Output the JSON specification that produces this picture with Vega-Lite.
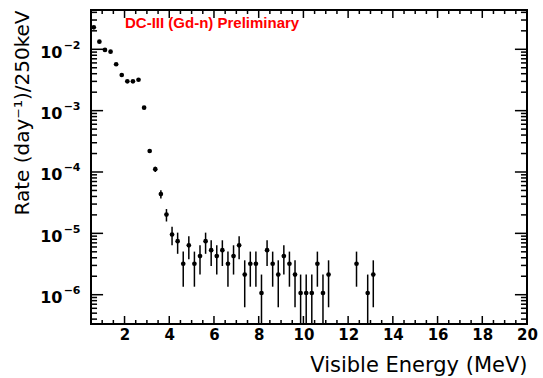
{
  "$schema": "https://vega.github.io/schema/vega-lite/v6.json",
  "width": 436,
  "height": 314,
  "autosize": "none",
  "padding": {"left": 91, "top": 10, "right": 16, "bottom": 54},
  "background": "white",
  "config": {
    "view": {"stroke": "black", "strokeWidth": 2},
    "axis": {"domain": false, "grid": false, "labelOverlap": false, "labelFlush": false, "labelBound": false, "labelColor": "black"}
  },
  "datasets": {
    "spectrum": [
      {"E": 0.625, "rate": 0.0228, "lo": 0.0228, "hi": 0.0228},
      {"E": 0.875, "rate": 0.0133, "lo": 0.0133, "hi": 0.0133},
      {"E": 1.125, "rate": 0.00975, "lo": 0.00975, "hi": 0.00975},
      {"E": 1.375, "rate": 0.00914, "lo": 0.00914, "hi": 0.00914},
      {"E": 1.625, "rate": 0.0057, "lo": 0.0057, "hi": 0.0057},
      {"E": 1.875, "rate": 0.00381, "lo": 0.00381, "hi": 0.00381},
      {"E": 2.125, "rate": 0.00301, "lo": 0.00301, "hi": 0.00301},
      {"E": 2.375, "rate": 0.00301, "lo": 0.00301, "hi": 0.00301},
      {"E": 2.625, "rate": 0.00319, "lo": 0.00319, "hi": 0.00319},
      {"E": 2.875, "rate": 0.001117, "lo": 0.00108, "hi": 0.00115},
      {"E": 3.125, "rate": 0.00022, "lo": 0.000205, "hi": 0.000235},
      {"E": 3.375, "rate": 0.000111, "lo": 0.0001, "hi": 0.000122},
      {"E": 3.625, "rate": 0.0000437, "lo": 0.0000369, "hi": 0.0000505},
      {"E": 3.875, "rate": 0.0000202, "lo": 0.0000156, "hi": 0.0000249},
      {"E": 4.125, "rate": 0.000009585, "lo": 0.00000639, "hi": 0.00001278},
      {"E": 4.375, "rate": 0.000007455, "lo": 0.00000464, "hi": 0.00001027},
      {"E": 4.625, "rate": 0.000003195, "lo": 0.00000135, "hi": 0.00000504},
      {"E": 4.875, "rate": 0.00000639, "lo": 0.00000378, "hi": 0.000009},
      {"E": 5.125, "rate": 0.000003195, "lo": 0.00000135, "hi": 0.00000504},
      {"E": 5.375, "rate": 0.00000426, "lo": 0.00000213, "hi": 0.00000639},
      {"E": 5.625, "rate": 0.000007455, "lo": 0.00000464, "hi": 0.00001027},
      {"E": 5.875, "rate": 0.000005325, "lo": 0.00000294, "hi": 0.00000771},
      {"E": 6.125, "rate": 0.00000426, "lo": 0.00000213, "hi": 0.00000639},
      {"E": 6.375, "rate": 0.000005325, "lo": 0.00000294, "hi": 0.00000771},
      {"E": 6.625, "rate": 0.000003195, "lo": 0.00000135, "hi": 0.00000504},
      {"E": 6.875, "rate": 0.00000426, "lo": 0.00000213, "hi": 0.00000639},
      {"E": 7.125, "rate": 0.00000639, "lo": 0.00000378, "hi": 0.000009},
      {"E": 7.375, "rate": 0.00000213, "lo": 0.000000624, "hi": 0.000003636},
      {"E": 7.625, "rate": 0.000003195, "lo": 0.00000135, "hi": 0.00000504},
      {"E": 7.875, "rate": 0.000003195, "lo": 0.00000135, "hi": 0.00000504},
      {"E": 8.125, "rate": 0.000001065, "lo": 0.00000033, "hi": 0.00000213},
      {"E": 8.375, "rate": 0.000005325, "lo": 0.00000294, "hi": 0.00000771},
      {"E": 8.625, "rate": 0.000003195, "lo": 0.00000135, "hi": 0.00000504},
      {"E": 8.875, "rate": 0.00000213, "lo": 0.000000624, "hi": 0.000003636},
      {"E": 9.125, "rate": 0.00000426, "lo": 0.00000213, "hi": 0.00000639},
      {"E": 9.375, "rate": 0.000003195, "lo": 0.00000135, "hi": 0.00000504},
      {"E": 9.625, "rate": 0.00000213, "lo": 0.000000624, "hi": 0.000003636},
      {"E": 9.875, "rate": 0.000001065, "lo": 0.00000033, "hi": 0.00000213},
      {"E": 10.125, "rate": 0.000001065, "lo": 0.00000033, "hi": 0.00000213},
      {"E": 10.375, "rate": 0.000001065, "lo": 0.00000033, "hi": 0.00000213},
      {"E": 10.625, "rate": 0.000003195, "lo": 0.00000135, "hi": 0.00000504},
      {"E": 10.875, "rate": 0.000001065, "lo": 0.00000033, "hi": 0.00000213},
      {"E": 11.125, "rate": 0.00000213, "lo": 0.000000624, "hi": 0.000003636},
      {"E": 12.375, "rate": 0.000003195, "lo": 0.00000135, "hi": 0.00000504},
      {"E": 12.875, "rate": 0.000001065, "lo": 0.00000033, "hi": 0.00000213},
      {"E": 13.125, "rate": 0.00000213, "lo": 0.000000624, "hi": 0.000003636}
    ],
    "note": [
      {"E": 2.02, "rate": 0.022, "label": "DC-III (Gd-n) Preliminary"}
    ],
    "xticks": [
      {"E": 0.5, "major": false}, {"E": 1, "major": false}, {"E": 1.5, "major": false}, {"E": 2, "major": true},
      {"E": 2.5, "major": false}, {"E": 3, "major": false}, {"E": 3.5, "major": false}, {"E": 4, "major": true},
      {"E": 4.5, "major": false}, {"E": 5, "major": false}, {"E": 5.5, "major": false}, {"E": 6, "major": true},
      {"E": 6.5, "major": false}, {"E": 7, "major": false}, {"E": 7.5, "major": false}, {"E": 8, "major": true},
      {"E": 8.5, "major": false}, {"E": 9, "major": false}, {"E": 9.5, "major": false}, {"E": 10, "major": true},
      {"E": 10.5, "major": false}, {"E": 11, "major": false}, {"E": 11.5, "major": false}, {"E": 12, "major": true},
      {"E": 12.5, "major": false}, {"E": 13, "major": false}, {"E": 13.5, "major": false}, {"E": 14, "major": true},
      {"E": 14.5, "major": false}, {"E": 15, "major": false}, {"E": 15.5, "major": false}, {"E": 16, "major": true},
      {"E": 16.5, "major": false}, {"E": 17, "major": false}, {"E": 17.5, "major": false}, {"E": 18, "major": true},
      {"E": 18.5, "major": false}, {"E": 19, "major": false}, {"E": 19.5, "major": false}, {"E": 20, "major": true}
    ],
    "yticks": [
      {"rate": 4e-7, "major": false}, {"rate": 5e-7, "major": false}, {"rate": 6e-7, "major": false}, {"rate": 7e-7, "major": false}, {"rate": 8e-7, "major": false}, {"rate": 9e-7, "major": false},
      {"rate": 1e-6, "major": true}, {"rate": 2e-6, "major": false}, {"rate": 3e-6, "major": false}, {"rate": 4e-6, "major": false}, {"rate": 5e-6, "major": false}, {"rate": 6e-6, "major": false}, {"rate": 7e-6, "major": false}, {"rate": 8e-6, "major": false}, {"rate": 9e-6, "major": false},
      {"rate": 1e-5, "major": true}, {"rate": 2e-5, "major": false}, {"rate": 3e-5, "major": false}, {"rate": 4e-5, "major": false}, {"rate": 5e-5, "major": false}, {"rate": 6e-5, "major": false}, {"rate": 7e-5, "major": false}, {"rate": 8e-5, "major": false}, {"rate": 9e-5, "major": false},
      {"rate": 1e-4, "major": true}, {"rate": 2e-4, "major": false}, {"rate": 3e-4, "major": false}, {"rate": 4e-4, "major": false}, {"rate": 5e-4, "major": false}, {"rate": 6e-4, "major": false}, {"rate": 7e-4, "major": false}, {"rate": 8e-4, "major": false}, {"rate": 9e-4, "major": false},
      {"rate": 1e-3, "major": true}, {"rate": 2e-3, "major": false}, {"rate": 3e-3, "major": false}, {"rate": 4e-3, "major": false}, {"rate": 5e-3, "major": false}, {"rate": 6e-3, "major": false}, {"rate": 7e-3, "major": false}, {"rate": 8e-3, "major": false}, {"rate": 9e-3, "major": false},
      {"rate": 1e-2, "major": true}, {"rate": 2e-2, "major": false}, {"rate": 3e-2, "major": false}, {"rate": 4e-2, "major": false}
    ]
  },
  "layer": [
    {
      "data": {"name": "spectrum"},
      "mark": {"type": "rule", "color": "black", "strokeWidth": 1.5, "clip": true},
      "encoding": {
        "x": {
          "field": "E", "type": "quantitative",
          "scale": {"domain": [0.5, 20], "nice": false, "zero": false},
          "axis": {
            "orient": "bottom",
            "ticks": false,
            "tickSize": 0,
            "title": "Visible Energy (MeV)",
            "titleAnchor": "end",
            "titleFont": "DejaVu Sans",
            "titleFontSize": 21,
            "titleFontWeight": "normal",
            "titleColor": "black",
            "titlePadding": 12,
            "values": [2,4,6,8,10,12,14,16,18,20],
            "format": "d",
            "labelFont": "DejaVu Sans",
            "labelFontSize": 15,
            "labelFontWeight": "bold",
            "labelPadding": 3
          }
        },
        "y": {
          "field": "lo", "type": "quantitative",
          "scale": {"type": "log", "domain": [3.33e-7, 0.0437], "nice": false},
          "axis": {
            "orient": "left",
            "ticks": false,
            "tickSize": 0,
            "title": "Rate (day⁻¹)/250keV",
            "titleAnchor": "end",
            "titleFont": "DejaVu Sans",
            "titleFontSize": 20,
            "titleFontWeight": "normal",
            "titleColor": "black",
            "titlePadding": 7,
            "values": [1e-6,1e-5,1e-4,1e-3,1e-2],
            "labelExpr": "'10'",
            "labelFont": "DejaVu Sans",
            "labelFontSize": 16,
            "labelFontWeight": "bold",
            "labelPadding": 29,
            "labelOffset": 3
          }
        },
        "y2": {"field": "hi"}
      }
    },
    {
      "data": {"name": "spectrum"},
      "mark": {"type": "circle", "color": "black", "opacity": 1, "size": 22},
      "encoding": {
        "x": {"field": "E", "type": "quantitative", "axis": null},
        "y": {
          "field": "rate", "type": "quantitative",
          "axis": {"orient": "left", "title": null, "ticks": false, "tickSize": 0,
            "values": [1e-6,1e-5,1e-4,1e-3,1e-2],
            "labelExpr": "'−' + format(-round(log(datum.value)/LN10), 'd')",
            "labelFont": "DejaVu Sans",
            "labelFontSize": 11,
            "labelFontWeight": "bold",
            "labelPadding": 11,
            "labelOffset": -4}
        }
      }
    },
    {
      "data": {"name": "note"},
      "mark": {"type": "text", "color": "#ff0000", "font": "Liberation Sans", "fontSize": 15, "fontWeight": "bold", "align": "left", "baseline": "alphabetic"},
      "encoding": {
        "x": {"field": "E", "type": "quantitative", "axis": null},
        "y": {"field": "rate", "type": "quantitative", "axis": null},
        "text": {"field": "label"}
      }
    },
    {
      "data": {"name": "xticks"},
      "transform": [{"filter": "datum.major"}],
      "mark": {"type": "rule", "color": "black", "strokeWidth": 1.5},
      "encoding": {
        "x": {"field": "E", "type": "quantitative", "axis": null},
        "y": {"datum": 3.33e-7, "type": "quantitative", "axis": null},
        "y2": {"datum": 4.5e-7}
      }
    },
    {
      "data": {"name": "xticks"},
      "transform": [{"filter": "!datum.major"}],
      "mark": {"type": "rule", "color": "black", "strokeWidth": 1.5},
      "encoding": {
        "x": {"field": "E", "type": "quantitative", "axis": null},
        "y": {"datum": 3.33e-7, "type": "quantitative", "axis": null},
        "y2": {"datum": 3.87e-7}
      }
    },
    {
      "data": {"name": "xticks"},
      "transform": [{"filter": "datum.major"}],
      "mark": {"type": "rule", "color": "black", "strokeWidth": 1.5},
      "encoding": {
        "x": {"field": "E", "type": "quantitative", "axis": null},
        "y": {"datum": 0.0437, "type": "quantitative", "axis": null},
        "y2": {"datum": 0.0324}
      }
    },
    {
      "data": {"name": "xticks"},
      "transform": [{"filter": "!datum.major"}],
      "mark": {"type": "rule", "color": "black", "strokeWidth": 1.5},
      "encoding": {
        "x": {"field": "E", "type": "quantitative", "axis": null},
        "y": {"datum": 0.0437, "type": "quantitative", "axis": null},
        "y2": {"datum": 0.0376}
      }
    },
    {
      "data": {"name": "yticks"},
      "transform": [{"filter": "datum.major"}],
      "mark": {"type": "rule", "color": "black", "strokeWidth": 1.5},
      "encoding": {
        "y": {"field": "rate", "type": "quantitative", "axis": null},
        "x": {"datum": 0.5, "type": "quantitative", "axis": null},
        "x2": {"datum": 1.04}
      }
    },
    {
      "data": {"name": "yticks"},
      "transform": [{"filter": "!datum.major"}],
      "mark": {"type": "rule", "color": "black", "strokeWidth": 1.5},
      "encoding": {
        "y": {"field": "rate", "type": "quantitative", "axis": null},
        "x": {"datum": 0.5, "type": "quantitative", "axis": null},
        "x2": {"datum": 0.77}
      }
    },
    {
      "data": {"name": "yticks"},
      "transform": [{"filter": "datum.major"}],
      "mark": {"type": "rule", "color": "black", "strokeWidth": 1.5},
      "encoding": {
        "y": {"field": "rate", "type": "quantitative", "axis": null},
        "x": {"datum": 20, "type": "quantitative", "axis": null},
        "x2": {"datum": 19.46}
      }
    },
    {
      "data": {"name": "yticks"},
      "transform": [{"filter": "!datum.major"}],
      "mark": {"type": "rule", "color": "black", "strokeWidth": 1.5},
      "encoding": {
        "y": {"field": "rate", "type": "quantitative", "axis": null},
        "x": {"datum": 20, "type": "quantitative", "axis": null},
        "x2": {"datum": 19.73}
      }
    }
  ],
  "resolve": {"axis": {"x": "independent", "y": "independent"}}
}
